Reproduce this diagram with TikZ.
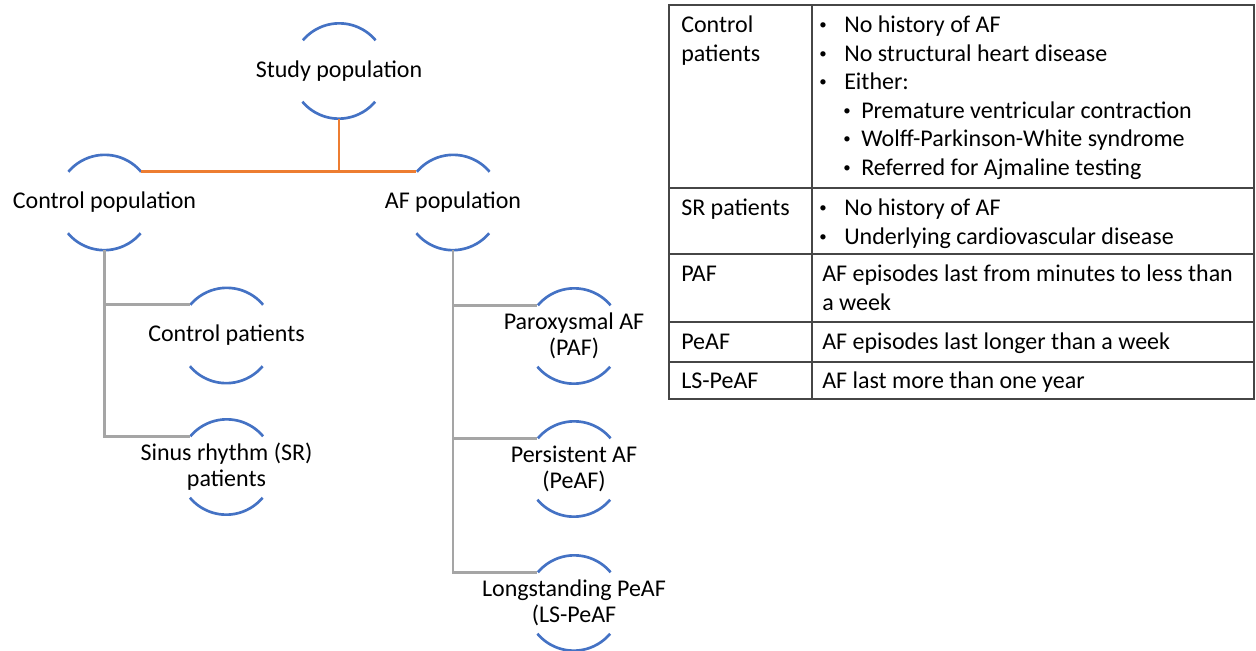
\documentclass[tikz,border=0pt]{standalone}
\usepackage{fontspec}
\setmainfont{Carlito}
\usepackage{tikz}
\usetikzlibrary{calc}
\definecolor{ArcBlue}{RGB}{68,114,196}
\definecolor{LinkOrange}{RGB}{237,125,49}
\definecolor{LinkGray}{RGB}{165,165,165}
\definecolor{TableGray}{RGB}{70,70,70}
\newcommand{\smallbullet}{\raisebox{0.12em}{\scalebox{0.62}{\textbullet}}}
\newcommand{\bul}{\makebox[18.75pt][l]{\smallbullet}}
\newcommand{\subbul}{\hspace{18pt}\makebox[13.5pt][l]{\smallbullet}}

\begin{document}
\begin{tikzpicture}[x=0.75pt,y=-0.75pt,
  ring/.style={circle,minimum size=71.25pt,inner sep=0pt},
  every label/.style={font=\fontsize{18}{19.5}\selectfont,align=center},
  arcline/.style={ArcBlue,line width=2pt},
  orangelink/.style={LinkOrange,line width=2pt},
  graylink/.style={LinkGray,line width=2pt},
  tableline/.style={TableGray,line width=0.8pt},
  cell/.style={anchor=north west,inner sep=0pt,align=left,font=\fontsize{18}{21.4}\selectfont}]
  \useasboundingbox (0,0) rectangle (1256,650);
  % population tree
  \node[ring,label={center:Study population}] (study) at (339,71) {};
  \node[ring,label={center:Control population}] (ctrl) at (104.5,202.5) {};
  \node[ring,label={center:AF population}] (afpop) at (453,202.5) {};
  \node[ring,label={center:Control patients}] (ctrlpat) at (226.5,335.5) {};
  \node[ring,label={center:Sinus rhythm (SR)\\patients}] (srpat) at (226.5,467) {};
  \node[ring,label={center:Paroxysmal AF\\(PAF)}] (paf) at (574,336) {};
  \node[ring,label={center:Persistent AF\\(PeAF)}] (peaf) at (574,469) {};
  \node[ring,label={center:Longstanding PeAF\\(LS-PeAF}] (lspeaf) at (574,603) {};
  \foreach \n in {study,ctrl,afpop,ctrlpat,srpat,paf,peaf,lspeaf}{
    \draw[arcline] (\n.40) arc[start angle=40,end angle=140,radius=35.6pt];
    \draw[arcline] (\n.220) arc[start angle=220,end angle=320,radius=35.6pt];
  }
  \draw[orangelink] (study.south) -- (study.south |- ctrl.40);
  \draw[orangelink] (ctrl.40) -- (afpop.140);
  \draw[graylink] (ctrl.south) |- (ctrlpat.140);
  \draw[graylink] (ctrl.south) |- (srpat.140);
  \draw[graylink] (afpop.south) |- (paf.140);
  \draw[graylink] (afpop.south) |- (peaf.140);
  \draw[graylink] (afpop.south) |- (lspeaf.140);
  % definitions table
  \draw[tableline] (669,5) rectangle (1254,399);
  \draw[tableline] (812,5) -- (812,399);
  \foreach \yy in {188,254,322,362}
    \draw[tableline] (669,\yy) -- (1254,\yy);
  \node[cell] (hctrl) at (681,12.5) {\strut Control\\\strut patients};
  \node[cell] (dctrl) at (819,12.5) {\strut\bul No history of AF\\
    \strut\bul No structural heart disease\\
    \strut\bul Either:\\
    \strut\subbul Premature ventricular contraction\\
    \strut\subbul Wolff-Parkinson-White syndrome\\
    \strut\subbul Referred for Ajmaline testing};
  \node[cell] (hsr) at (681,195.5) {\strut SR patients};
  \node[cell] (dsr) at (819,195.5) {\strut\bul No history of AF\\
    \strut\bul Underlying cardiovascular disease};
  \node[cell] (hpaf) at (681,261.5) {\strut PAF};
  \node[cell] (dpaf) at (822,261.5) {\strut AF episodes last from minutes to less than\\\strut a week};
  \node[cell] (hpeaf) at (681,329) {\strut PeAF};
  \node[cell] (dpeaf) at (822,329) {\strut AF episodes last longer than a week};
  \node[cell] (hls) at (681,368) {\strut LS-PeAF};
  \node[cell] (dls) at (822,368) {\strut AF last more than one year};
\end{tikzpicture}
\end{document}
